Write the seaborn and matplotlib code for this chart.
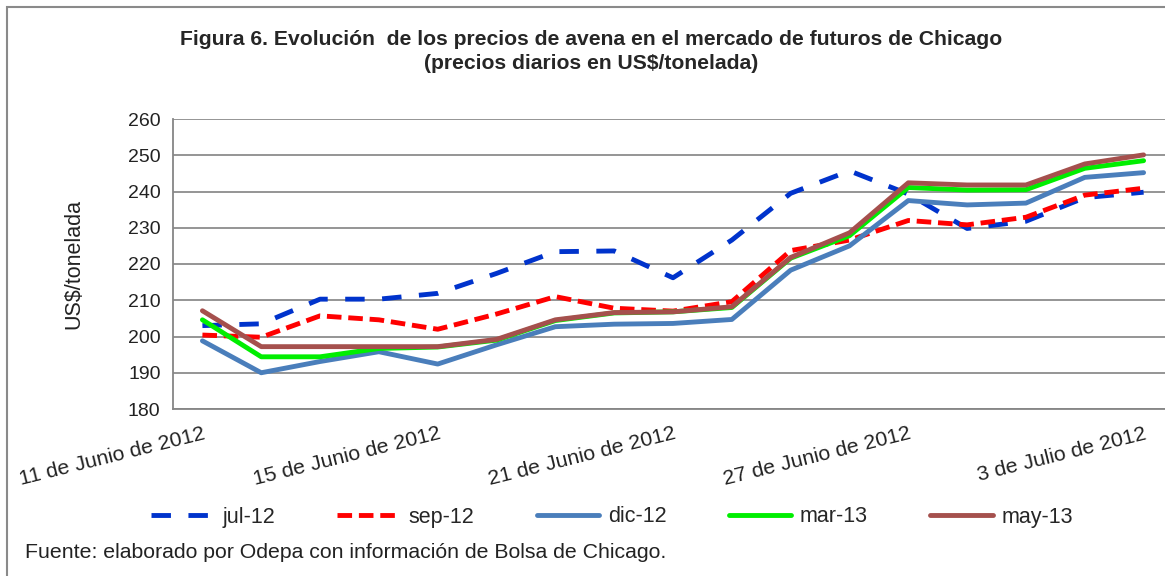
import pandas as pd
import matplotlib.pyplot as plt
import seaborn as sns
from matplotlib.patches import Rectangle

# Datos (US$/tonelada, precios diarios)
fechas = [
    "11 de Junio de 2012", "12 de Junio de 2012", "13 de Junio de 2012",
    "14 de Junio de 2012", "15 de Junio de 2012", "18 de Junio de 2012",
    "19 de Junio de 2012", "20 de Junio de 2012", "21 de Junio de 2012",
    "22 de Junio de 2012", "25 de Junio de 2012", "26 de Junio de 2012",
    "27 de Junio de 2012", "28 de Junio de 2012", "29 de Junio de 2012",
    "2 de Julio de 2012", "3 de Julio de 2012",
]
jul_12 = [203.0, 203.5, 210.3, 210.3, 211.9, 217.4, 223.4, 223.6, 216.2,
          226.6, 239.5, 245.7, 239.3, 229.8, 231.8, 238.3, 239.8]
sep_12 = [200.4, 199.8, 205.7, 204.6, 202.0, 206.2, 211.0, 207.8, 207.0,
          209.6, 223.7, 226.6, 232.0, 230.8, 232.9, 239.0, 240.9]
dic_12 = [198.8, 190.0, 193.1, 195.8, 192.4, 197.7, 202.7, 203.4, 203.6,
          204.7, 218.3, 225.0, 237.5, 236.3, 236.8, 243.9, 245.2]
mar_13 = [204.6, 194.4, 194.4, 196.7, 197.1, 199.0, 204.4, 206.5, 206.8,
          208.0, 221.6, 227.8, 241.1, 240.4, 240.5, 246.4, 248.5]
may_13 = [207.1, 197.2, 197.2, 197.2, 197.2, 199.2, 204.6, 206.6, 206.8,
          208.2, 221.8, 228.6, 242.4, 241.8, 241.8, 247.6, 250.1]
contratos = ["jul-12", "sep-12", "dic-12", "mar-13", "may-13"]

colores = {"jul-12": "#0033cc", "sep-12": "#ff0000", "dic-12": "#4a7ebb",
           "mar-13": "#00ee00", "may-13": "#a5504d"}
trazos = {"jul-12": (4, 3.6), "sep-12": (3, 1.4), "dic-12": "",
          "mar-13": "", "may-13": ""}

df = pd.DataFrame({
    "dia": list(range(len(fechas))) * 5,
    "precio": jul_12 + sep_12 + dic_12 + mar_13 + may_13,
    "contrato": [c for c in contratos for _ in fechas],
})

sns.set_style("white")
plt.rcParams["font.family"] = ["Liberation Sans", "DejaVu Sans"]

fig = plt.figure(figsize=(11.65, 5.76), dpi=100)
ax = fig.add_axes([173 / 1165, 167 / 576, 1000 / 1165, 290 / 576])

sns.lineplot(data=df, x="dia", y="precio", hue="contrato", style="contrato",
             hue_order=contratos, style_order=contratos, palette=colores,
             dashes=trazos, linewidth=3.5, ax=ax)

handles, labels = ax.get_legend_handles_labels()
ax.get_legend().remove()

ax.set_ylim(180, 260)
ax.set_yticks(range(180, 261, 10))
ax.set_xlim(-0.5, len(fechas) - 0.5)
ax.set_xticks(range(0, len(fechas), 4))
ax.set_xticklabels(fechas[::4], rotation=14, ha="right", rotation_mode="anchor")
ax.set_xticks([i - 0.5 for i in range(len(fechas))], minor=True)
ax.tick_params(axis="x", which="major", length=0, pad=11, labelsize=15.3, colors="#222222")
ax.tick_params(axis="x", which="minor", length=5, width=1.2, color="#868686", direction="out")
ax.tick_params(axis="y", length=5, width=1.2, color="#868686", direction="out",
               labelsize=14, pad=4, labelcolor="#222222")
ax.grid(axis="y", color="#8c8c8c", linewidth=1.3)
for s in ["top", "right"]:
    ax.spines[s].set_visible(False)
for s in ["left", "bottom"]:
    ax.spines[s].set_color("#868686")
    ax.spines[s].set_linewidth(1.3)
ax.set_xlabel("")
ax.set_ylabel("US$/tonelada", fontsize=15.5, color="#222222", labelpad=31)

fig.text(0.507, 1 - 30 / 576, "Figura 6. Evolución  de los precios de avena en el mercado de futuros de Chicago",
         ha="center", va="top", fontsize=15.2, fontweight="bold")
fig.text(0.507, 1 - 54 / 576, "(precios diarios en US$/tonelada)",
         ha="center", va="top", fontsize=15.2, fontweight="bold")

fig.legend(handles, labels, loc="center", bbox_to_anchor=(612 / 1165, 1 - 517 / 576),
           ncol=5, frameon=False, fontsize=15.5, handlelength=2.9, handletextpad=0.4,
           columnspacing=2.9)

fig.text(25 / 1165, 1 - 552 / 576, "Fuente: elaborado por Odepa con información de Bolsa de Chicago.",
         ha="left", va="center", fontsize=15.3, color="#222222")

fig.patches.append(Rectangle((7 / 1165, -0.1), 1.2, 1.1 - 7 / 576, transform=fig.transFigure,
                             fill=False, edgecolor="#8a8a8a", linewidth=1.5))

fig.savefig("out.png", dpi=100)
